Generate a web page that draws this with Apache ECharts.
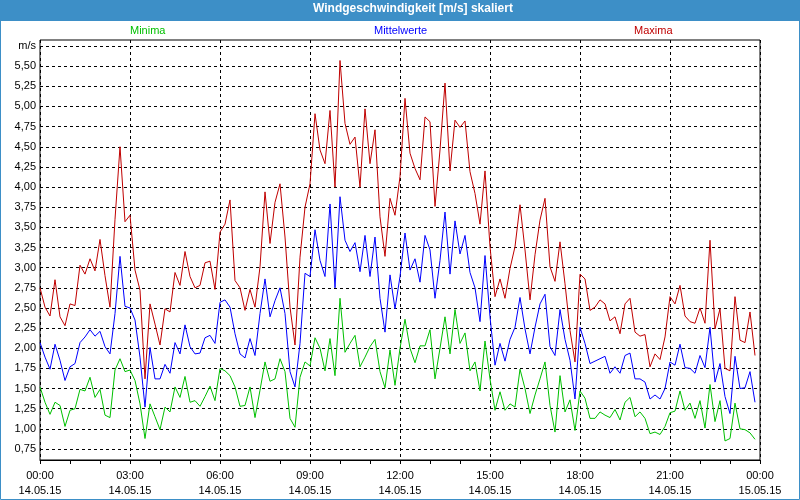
<!DOCTYPE html>
<html>
<head>
<meta charset="utf-8">
<script src="https://cdn.jsdelivr.net/npm/echarts@6/dist/echarts.min.js"></script>
<style>
html,body{margin:0;padding:0;background:#fff;}
#chart{width:800px;height:500px;}
</style>
</head>
<body>
<div id="chart"></div>
<script>
// 10-minute samples on 14.05.15, 00:00 .. 23:50
const maxima = [
2.75,2.51,2.40,2.85,2.39,2.28,2.55,2.53,3.03,2.92,3.11,2.96,3.35,2.90,2.51,3.60,4.50,3.57,3.65,2.97,2.72,1.62,2.55,2.30,2.04,2.49,2.45,2.94,2.78,
3.20,2.89,2.75,2.78,3.06,3.08,2.73,3.44,3.54,3.84,2.84,2.75,2.47,2.73,2.51,3.01,3.94,3.30,3.81,4.04,3.38,2.51,2.04,3.13,3.75,4.04,4.91,4.46,4.29,
4.95,4.00,5.57,4.79,4.53,4.62,4.00,4.97,4.29,4.71,3.63,3.14,3.86,3.65,4.13,5.10,4.42,4.23,4.09,4.87,4.81,3.76,4.46,5.29,4.20,4.83,4.74,4.82,4.19,
3.92,3.54,4.20,3.26,2.64,2.86,2.62,2.99,3.26,3.78,3.22,2.60,3.16,3.59,3.86,3.01,2.83,3.32,2.80,2.22,1.83,2.92,2.86,2.47,2.51,2.60,2.55,2.34,2.39,
2.18,2.55,2.62,2.20,2.15,2.17,1.77,1.93,1.86,2.14,2.64,2.55,2.78,2.40,2.33,2.31,2.50,2.31,3.34,2.24,2.49,1.75,1.72,2.64,2.10,2.07,2.45,1.91
];
const mittelwerte = [
2.07,1.89,1.74,2.05,1.85,1.60,1.77,1.81,2.07,2.14,2.23,2.15,2.21,2.02,1.93,2.43,3.14,2.52,2.50,2.35,1.89,1.27,2.01,1.62,1.62,1.80,1.69,2.07,1.93,
2.29,2.02,1.93,1.94,2.13,2.16,2.06,2.57,2.60,2.51,2.18,1.93,1.88,2.12,1.91,2.43,2.86,2.39,2.59,2.75,2.43,1.71,1.52,2.06,2.93,2.89,3.47,3.09,2.89,
3.79,2.75,3.88,3.34,3.20,3.31,2.95,3.40,2.89,3.38,2.62,2.20,2.91,2.49,2.89,3.43,2.97,3.11,2.82,3.40,3.22,2.62,3.09,3.69,2.92,3.58,3.17,3.40,2.94,
2.75,2.33,3.15,2.39,1.79,2.06,1.84,2.11,2.26,2.63,2.24,1.93,2.26,2.55,2.67,2.02,1.91,2.48,2.11,1.85,1.37,2.26,2.06,1.81,1.84,1.87,1.90,1.69,1.77,
1.69,1.91,1.94,1.62,1.62,1.58,1.37,1.42,1.37,1.50,1.83,1.79,2.05,1.76,1.75,1.69,1.91,1.76,2.26,1.58,1.81,1.40,1.19,1.90,1.50,1.51,1.71,1.33
];
const minima = [
1.52,1.33,1.18,1.33,1.29,1.03,1.23,1.25,1.49,1.47,1.64,1.39,1.49,1.17,1.14,1.73,1.87,1.71,1.73,1.60,1.31,0.88,1.31,1.15,0.99,1.27,1.21,1.52,1.39,
1.65,1.33,1.35,1.28,1.40,1.53,1.35,1.75,1.72,1.66,1.52,1.28,1.29,1.52,1.14,1.48,1.83,1.59,1.62,1.87,1.71,1.13,1.02,1.64,1.83,1.78,2.13,2.00,1.72,
2.12,1.66,2.62,1.95,2.06,2.16,1.77,1.89,2.02,2.11,1.71,1.51,1.98,1.54,2.00,2.36,2.00,1.82,2.03,2.03,2.23,1.62,2.00,2.39,1.93,2.48,2.06,2.19,1.72,
1.83,1.47,2.09,1.62,1.23,1.46,1.23,1.31,1.27,1.74,1.50,1.19,1.42,1.62,1.83,1.29,0.96,1.66,1.21,1.36,0.98,1.47,1.38,1.13,1.13,1.21,1.17,1.14,1.24,
1.11,1.33,1.39,1.15,1.21,1.13,0.94,0.96,0.93,1.03,1.20,1.22,1.47,1.23,1.32,1.13,1.35,1.01,1.55,1.09,1.35,0.85,0.88,1.32,1.00,0.99,0.95,0.87
];
const xTickLabels = ['00:00\n14.05.15','03:00\n14.05.15','06:00\n14.05.15','09:00\n14.05.15','12:00\n14.05.15','15:00\n14.05.15','18:00\n14.05.15','21:00\n14.05.15','00:00\n15.05.15'];
const seriesNames = ['Minima','Mittelwerte','Maxima'];
const seriesColors = ['#00c000','#0000ff','#c00000'];

// time categories: 00:00 .. 24:00 in 10-minute steps
const categories = [];
for (let i = 0; i <= 144; i++) {
  const h = Math.floor(i / 6) % 24, m = (i % 6) * 10;
  categories.push((h < 10 ? '0' : '') + h + ':' + (m < 10 ? '0' : '') + m);
}

const FONT = 'Liberation Sans';
const chart = echarts.init(document.getElementById('chart'), null, {renderer: 'canvas'});
const dashed = {show: true, lineStyle: {color: '#000', type: [3, 3], width: 1}};

chart.setOption({
  animation: false,
  backgroundColor: '#fff',
  textStyle: {fontFamily: FONT},
  graphic: [
    {type: 'rect', z: 0, shape: {x: 0, y: 0, width: 800, height: 21}, style: {fill: '#3d8fc7'}},
    {type: 'rect', z: 100, shape: {x: 0.5, y: 0.5, width: 799, height: 499}, style: {fill: 'none', stroke: '#3d8fc7', lineWidth: 1}}
  ],
  title: {
    text: 'Windgeschwindigkeit [m/s] skaliert',
    left: 313, top: 3, padding: 0, z: 10,
    textStyle: {color: '#fff', fontSize: 12, fontWeight: 'bold', fontFamily: FONT}
  },
  legend: seriesNames.map((n, i) => ({
    data: [{name: n, textStyle: {color: seriesColors[i]}}],
    left: [125, 369, 629][i], top: 25, padding: 0,
    icon: 'none', itemWidth: 0, itemHeight: 0, selectedMode: false,
    textStyle: {fontSize: 11, fontFamily: FONT}
  })),
  grid: [
    {left: 40, right: 40, top: 40, bottom: 40, show: true, borderColor: '#000', borderWidth: 1, backgroundColor: 'transparent'},
    {left: 40, right: 40, top: 46, bottom: 51}
  ],
  xAxis: [
    {
      gridIndex: 0, type: 'category', data: categories, boundaryGap: false,
      axisLine: {show: true, lineStyle: {color: '#000'}},
      axisTick: {show: true, interval: 5, length: 4, lineStyle: {color: '#000'}},
      axisLabel: {
        interval: 17, color: '#000', fontSize: 11, lineHeight: 15, margin: 8, fontFamily: FONT,
        formatter: (v, idx) => xTickLabels[Math.round(idx / 18)]
      },
      splitLine: Object.assign({interval: 17}, dashed)
    },
    {gridIndex: 1, type: 'category', data: categories, boundaryGap: false, show: false}
  ],
  yAxis: [
    {gridIndex: 0, type: 'value', show: false, splitLine: {show: false}},
    {
      gridIndex: 1, type: 'value', min: 0.75, max: 5.75, interval: 0.25,
      axisLine: {show: false}, axisTick: {show: false},
      axisLabel: {
        color: '#000', fontSize: 11, margin: 4, fontFamily: FONT,
        formatter: v => Math.abs(v - 5.75) < 1e-6 ? 'm/s' : v.toFixed(2).replace('.', ',')
      },
      splitLine: dashed
    }
  ],
  series: [minima, mittelwerte, maxima].map((d, i) => ({
    name: seriesNames[i], type: 'line', xAxisIndex: 1, yAxisIndex: 1,
    data: d, showSymbol: false, symbol: 'none', smooth: false,
    lineStyle: {color: seriesColors[i], width: 1},
    itemStyle: {color: seriesColors[i]}, z: 5 + i
  }))
});
</script>
</body>
</html>
